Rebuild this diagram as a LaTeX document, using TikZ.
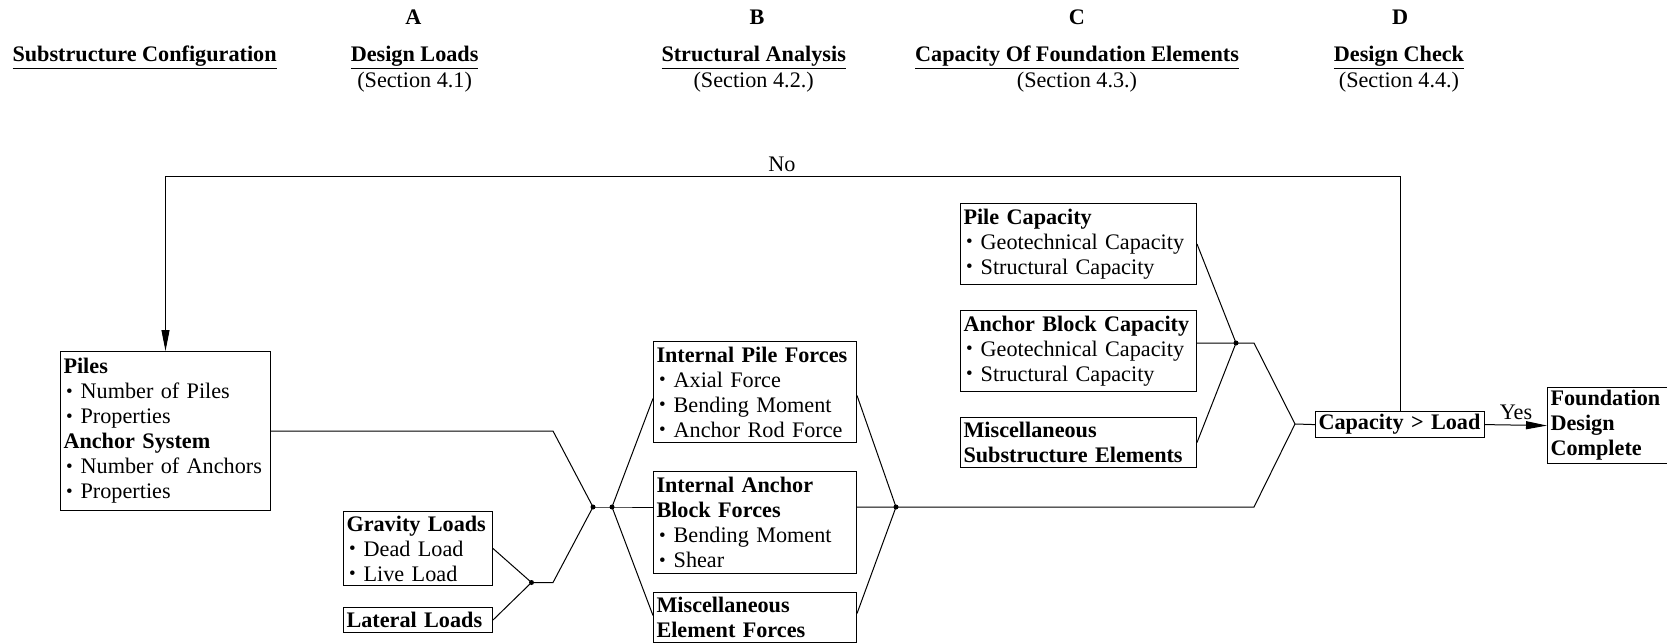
\documentclass[tikz,border=0pt]{standalone}
\usepackage{fontspec}
\setmainfont{Liberation Serif}
\usetikzlibrary{arrows.meta}
\newcommand{\fs}{\fontsize{22.2}{25}\selectfont}
\newcommand{\bul}{\hspace*{2.5pt}\raisebox{1.5pt}{\fontsize{19}{19}\selectfont\textbullet}\hspace{8pt}}
\tikzset{
  box/.style={draw, anchor=north west, align=left, inner xsep=3pt, inner ysep=3pt, font=\fs},
  head/.style={anchor=base, inner sep=0pt, font=\fs\bfseries},
  sect/.style={anchor=base, inner sep=0pt, font=\fs},
  tip/.style={-{Triangle[length=21pt,width=8pt]}}
}
\begin{document}
\begin{tikzpicture}[x=1pt,y=-1pt,line width=1pt]
\useasboundingbox (0,0) rectangle (1667,644);
\clip (0,0) rectangle (1667,644);
\node[head] (ha) at (413.5,25) {A};
\node[head] (hb) at (757,25) {B};
\node[head] (hc) at (1077,25) {C};
\node[head] (hd) at (1400,25) {D};
\node[head] (tsub) at (144.6,62) {\underline{Substructure Configuration}};
\node[head] (tload) at (414.6,62) {\underline{Design Loads}};
\node[head] (tana) at (753.7,62) {\underline{Structural Analysis}};
\node[head] (tcap) at (1077,62) {\underline{Capacity Of Foundation Elements}};
\node[head] (tchk) at (1399,62) {\underline{Design Check}};
\node[sect] (sload) at (414.6,88) {(Section 4.1)};
\node[sect] (sana) at (753.7,88) {(Section 4.2.)};
\node[sect] (scap) at (1077,88) {(Section 4.3.)};
\node[sect] (schk) at (1399,88) {(Section 4.4.)};
\node[box, text width=204pt, minimum height=159pt] (piles) at (60,351) {\textbf{Piles}\\ \bul Number of Piles\\ \bul Properties\\ \textbf{Anchor System}\\ \bul Number of Anchors\\ \bul Properties};
\node[box, text width=143pt, minimum height=74pt] (grav) at (343,511) {\textbf{Gravity Loads}\\ \bul Dead Load\\ \bul Live Load};
\node[box, text width=143pt, minimum height=25pt] (lat) at (343,607) {\textbf{Lateral Loads}};
\node[box, text width=197pt, minimum height=101pt] (ipf) at (653,341) {\textbf{Internal Pile Forces}\\ \bul Axial Force\\ \bul Bending Moment\\ \bul Anchor Rod Force};
\node[box, text width=197pt, minimum height=102pt] (iab) at (653,471) {\textbf{Internal Anchor}\\ \textbf{Block Forces}\\ \bul Bending Moment\\ \bul Shear};
\node[box, text width=197pt, minimum height=50pt] (mef) at (653,592) {\textbf{Miscellaneous}\\ \textbf{Element Forces}};
\node[box, text width=230pt, minimum height=81pt] (pcap) at (960,203) {\textbf{Pile Capacity}\\ \bul Geotechnical Capacity\\ \bul Structural Capacity};
\node[box, text width=230pt, minimum height=81pt] (acap) at (960,310) {\textbf{Anchor Block Capacity}\\ \bul Geotechnical Capacity\\ \bul Structural Capacity};
\node[box, text width=230pt, minimum height=50pt] (msub) at (960,417) {\textbf{Miscellaneous}\\ \textbf{Substructure Elements}};
\node[box, text width=163pt, minimum height=26pt] (cl) at (1315,411) {\textbf{Capacity > Load}};
\node[box, text width=124pt, minimum height=75pt] (fdc) at (1547,387) {\textbf{Foundation}\\ \textbf{Design}\\ \textbf{Complete}};
\coordinate (j0) at (531.5,582.5);
\coordinate (j1) at (593,507);
\coordinate (j2) at (612,507);
\coordinate (j3) at (896,507);
\coordinate (j4) at (1236,343);
\coordinate (j5) at (1295,424);
\coordinate (loop) at (782,176.5);
\draw (piles.east) -- ([xshift=-40pt]j1 |- piles.east) -- (j1);
\draw (grav.east) -- (j0);
\draw (lat.east) -- (j0) -- ([xshift=-40pt]j1 |- j0) -- (j1);
\draw (j1) -- (j2) -- (iab.west |- j2);
\draw ([yshift=-6.5pt]ipf.west) -- (j2) -- ([yshift=2pt]mef.west);
\draw ([yshift=-3.5pt]ipf.east) -- (j3) -- ([yshift=4pt]mef.east);
\draw (iab.east |- j3) -- (j3) -- ([xshift=-41pt]j5 |- j3) -- (j5);
\draw (pcap.east) -- (j4) -- (msub.east);
\draw (acap.east |- j4) -- (j4) -- ([xshift=-41pt]j5 |- j4) -- (j5) -- (cl.west);
\foreach \j in {j0,j1,j2,j3,j4} \fill (\j) circle (2.5pt);
\draw[tip] (cl.north) |- (loop) node[above, inner sep=4pt, font=\fs] (no) {No} -| (piles.north);
\draw[tip] (cl.east) -- node[above, inner sep=5pt, font=\fs] (yes) {Yes} (fdc.west);
\end{tikzpicture}
\end{document}
